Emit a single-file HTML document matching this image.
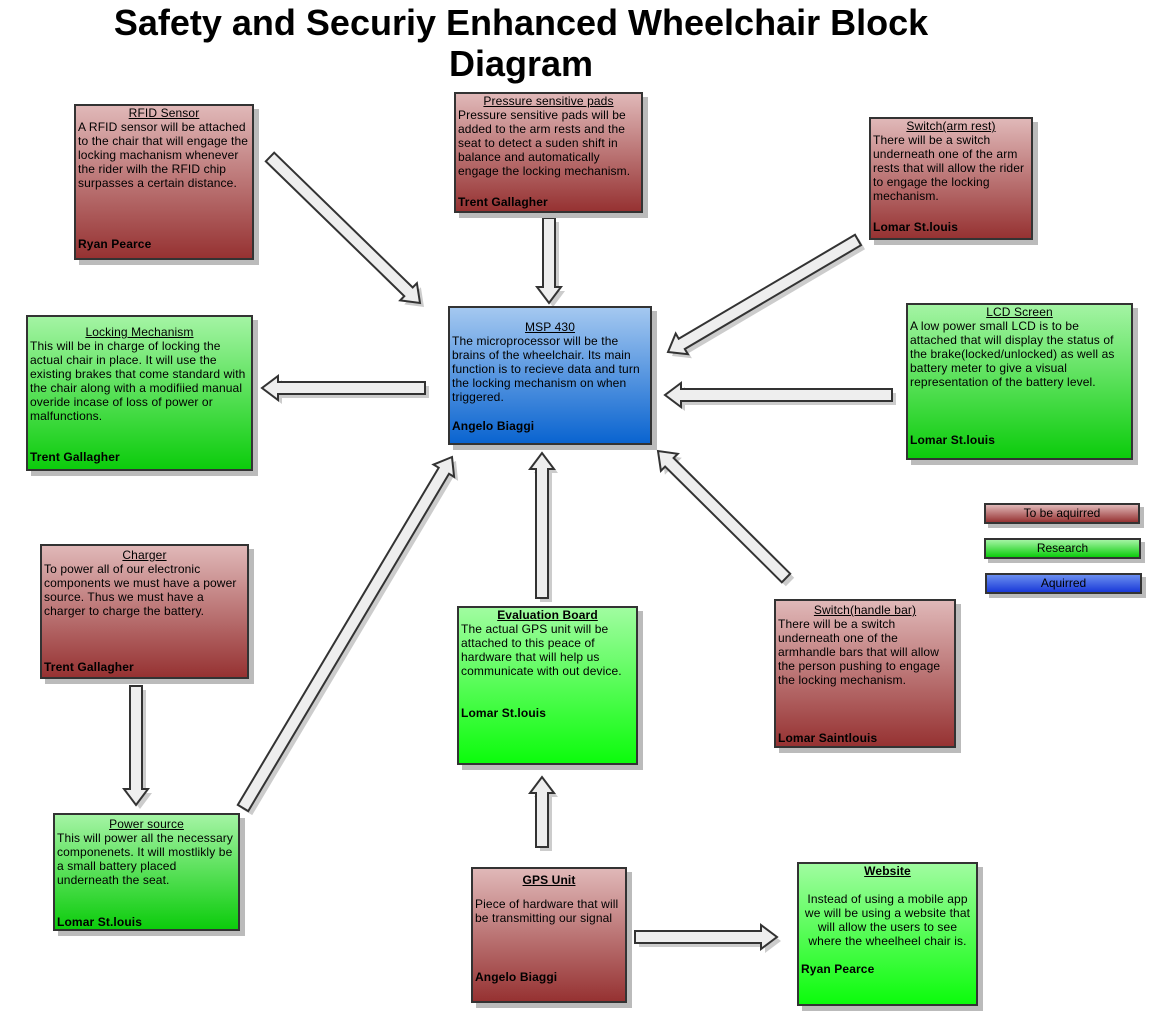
<!DOCTYPE html>
<html><head><meta charset="utf-8"><style>
body{margin:0;width:1163px;height:1025px;background:#fff;position:relative;overflow:hidden;font-family:"Liberation Sans",sans-serif;}
.b{position:absolute;box-sizing:border-box;border:2px solid #333;box-shadow:5px 5px 0 #bbb;font-size:12px;line-height:14px;color:#000;padding:0 2px;letter-spacing:0.12px;}
.r{background:linear-gradient(#e0b8b8,#963232);}
.g{background:linear-gradient(#a4f4a4,#0ccc0c);}
.g2{background:linear-gradient(#a0fca0,#0cfc0c);}
.bl{background:linear-gradient(#a4c8f0,#0a64d0);}
.t{text-align:center;text-decoration:underline;}
.n{font-weight:bold;position:absolute;left:2px;}
h1{position:absolute;margin:0;left:81px;width:880px;top:2px;text-align:center;font-size:36px;line-height:41px;font-weight:bold;}
.lg{position:absolute;box-sizing:border-box;border:2px solid #333;box-shadow:4px 4px 0 #bbb;font-size:12px;text-align:center;line-height:16px;}
svg{position:absolute;left:0;top:0;}
</style></head><body>
<h1>Safety and Securiy Enhanced Wheelchair Block Diagram</h1>
<svg width="1163" height="1025" id="s"></svg>

<div class="b r" style="left:74px;top:104px;width:180px;height:156px"><div class="t">RFID Sensor </div>A RFID sensor will be attached to the chair that will engage the locking machanism whenever the rider wilh the RFID chip surpasses a certain distance.<div class="n" style="top:131px">Ryan Pearce</div></div>
<div class="b r" style="left:454px;top:92px;width:189px;height:121px"><div class="t">Pressure sensitive pads</div>Pressure sensitive pads will be added to the arm rests and the seat to detect a suden shift in balance and automatically engage the locking mechanism.<div class="n" style="top:101px">Trent Gallagher</div></div>
<div class="b r" style="left:869px;top:117px;width:164px;height:123px"><div class="t">Switch(arm rest)</div>There will be a switch underneath one of the arm rests that will allow the rider to engage the locking mechanism.<div class="n" style="top:101px">Lomar St.louis</div></div>
<div class="b bl" style="left:448px;top:306px;width:204px;height:139px"><div class="t" style="margin-top:12px">MSP 430</div>The microprocessor will be the brains of the wheelchair. Its main function is to recieve data and turn the locking mechanism on when triggered.<div class="n" style="top:111px">Angelo Biaggi</div></div>
<div class="b g" style="left:26px;top:315px;width:227px;height:156px"><div class="t" style="margin-top:8px">Locking Mechanism </div>This will be in charge of locking the actual chair in place. It will use the existing brakes that come standard with the chair along with a modifiied manual overide incase of loss of power or malfunctions.<div class="n" style="top:133px">Trent Gallagher</div></div>
<div class="b g" style="left:906px;top:303px;width:227px;height:157px"><div class="t">LCD Screen</div>A low power small LCD is to be attached that will display the status of the brake(locked/unlocked) as well as battery meter to give a visual representation of the battery level.<div class="n" style="top:128px">Lomar St.louis</div></div>
<div class="b r" style="left:40px;top:544px;width:209px;height:135px"><div class="t" style="margin-top:2px">Charger</div>To power all of our electronic components we must have a power source. Thus we must have a charger to charge the battery.<div class="n" style="top:114px">Trent Gallagher</div></div>
<div class="b g2" style="left:457px;top:606px;width:181px;height:159px"><div class="t" style="font-weight:bold">Evaluation Board</div>The actual GPS unit will be attached to this peace of hardware that will help us communicate with out device.<div class="n" style="top:98px">Lomar St.louis</div></div>
<div class="b r" style="left:774px;top:599px;width:182px;height:149px"><div class="t" style="margin-top:2px">Switch(handle bar)</div>There will be a switch underneath one of the armhandle bars that will allow the person pushing to engage the locking mechanism.<div class="n" style="top:130px">Lomar Saintlouis</div></div>
<div class="b g" style="left:53px;top:813px;width:187px;height:118px"><div class="t" style="margin-top:2px">Power source</div>This will power all the necessary componenets. It will mostlikly be a small battery placed underneath the seat.<div class="n" style="top:100px">Lomar St.louis</div></div>
<div class="b r" style="left:471px;top:867px;width:156px;height:136px"><div class="t" style="font-weight:bold;margin-top:4px">GPS Unit</div><div style="margin-top:10px">Piece of hardware that will be transmitting our signal</div><div class="n" style="top:101px">Angelo Biaggi</div></div>
<div class="b g2" style="left:797px;top:862px;width:181px;height:144px;text-align:center"><div class="t" style="font-weight:bold;margin-top:0">Website</div><div style="margin-top:14px">Instead of using a mobile app we will be using a website that will allow the users to see where the wheelheel chair is.</div><div class="n" style="top:98px">Ryan Pearce</div></div>

<div class="lg r" style="left:984px;top:503px;width:156px;height:21px">To be aquirred</div>
<div class="lg g" style="left:984px;top:538px;width:157px;height:21px">Research</div>
<div class="lg bl" style="left:985px;top:573px;width:157px;height:21px;background:linear-gradient(#6a8ef0,#1a3ad8)">Aquirred</div>

<script>
var A=[[270,157,420,303],[549,218,549,303],[858,240,668,352],[425,388,262,388],[892,395,665,395],[243,808,452,457],[542,598,542,453],[786,578,658,451],[136,686,136,805],[542,847,542,777],[635,937,777,937]];
var s=document.getElementById('s'),h='';
A.forEach(function(a){var dx=a[2]-a[0],dy=a[3]-a[1],L=Math.hypot(dx,dy),ux=dx/L,uy=dy/L,px=-uy,py=ux,w=6,hw=12,hl=16;
function P(t,o){return (a[0]+ux*t+px*o).toFixed(1)+','+(a[1]+uy*t+py*o).toFixed(1);}
var pts=[P(0,-w),P(L-hl,-w),P(L-hl,-hw),P(L,0),P(L-hl,hw),P(L-hl,w),P(0,w)].join(' ');
h+='<polygon points="'+pts+'" fill="#ccc" transform="translate(4,4)"/><polygon points="'+pts+'" fill="#eee" stroke="#333" stroke-width="2"/>';});
s.innerHTML=h;
</script>
</body></html>
